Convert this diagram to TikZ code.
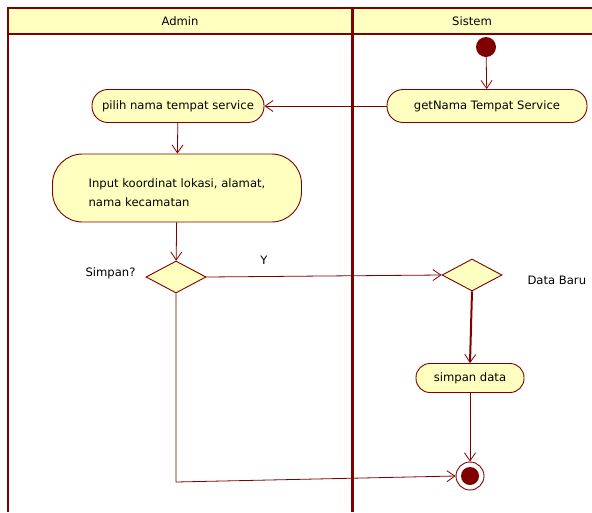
\documentclass[tikz,border=0pt]{standalone}
\usepackage{fontspec}
\setmainfont{DejaVu Sans}
\usetikzlibrary{shapes.geometric,arrows.meta}
\definecolor{umlred}{HTML}{800000}
\definecolor{umlfill}{HTML}{FFFFC0}
\tikzset{
  act/.style={draw=umlred, fill=umlfill, rounded corners=16pt, line width=0.9pt,
    minimum height=33pt, inner xsep=8pt, font=\fontsize{11.6}{19}\selectfont},
  dec/.style={draw=umlred, fill=umlfill, diamond, aspect=2, line width=0.9pt,
    minimum width=60pt, minimum height=32pt, inner sep=0pt},
  flow/.style={draw=umlred, line width=0.8pt, -{Straight Barb[length=8pt,width=11pt,line width=0.8pt]}},
  lbl/.style={font=\fontsize{11.6}{14}\selectfont, text=black},
  lane/.style={draw=umlred, line width=2pt},
}
\begin{document}
\begin{tikzpicture}[x=1pt,y=-1pt]
\useasboundingbox (0,0) rectangle (592,512);
% swimlane header and borders
\fill[umlfill] (8,8) rectangle (592,34);
\draw[lane] (592,8) -- (8,8) -- (8,512);
\draw[umlred, line width=1.5pt] (8,34) -- (592,34);
\draw[umlred, line width=3pt] (352,8) -- (352,512);
\node[lbl] (hadmin) at (180,21) {Admin};
\node[lbl] (hsistem) at (472,21) {Sistem};
% nodes
\node[circle, fill=umlred, minimum size=20pt, inner sep=0pt] (start) at (486,47) {};
\node[act, minimum width=200pt] (get) at (487,106) {getNama Tempat Service};
\node[act, minimum width=172pt] (pilih) at (178,106) {pilih nama tempat service};
\node[act, minimum width=249pt, minimum height=68pt, rounded corners=30pt, align=left] (input) at (177,188)
  {\rule{0pt}{18.8pt}Input koordinat lokasi, alamat,\\nama kecamatan};
\node[dec] (d1) at (176,277) {};
\node[lbl, anchor=east] (lsimpan) at (139,273) {Simpan?};
\node[lbl] (ly) at (264,260) {Y};
\node[dec] (d2) at (472,275) {};
\node[lbl, anchor=west] (ldata) at (524,280) {Data Baru};
\node[act, minimum width=108pt, minimum height=29pt, rounded corners=14pt] (simpan) at (470,378) {simpan data};
\node[circle, draw=umlred, line width=0.9pt, fill=white, minimum size=28pt, inner sep=0pt] (final) at (470,476) {};
\fill[umlred] (final.center) circle (9pt);
\coordinate (corner) at (176,482);
% flows
\draw[flow] (start) -- (get);
\draw[flow] (get) -- (pilih);
\draw[flow] (pilih) -- (input);
\draw[flow] (input) -- (d1);
\draw[flow] (d1.east) -- (d2.west);
\draw[flow, line width=2pt] (d2.south) -- (simpan.north);
\draw[flow] (simpan) -- (final);
\draw[flow] (d1.south) -- (corner) -- (final.west);
\end{tikzpicture}
\end{document}
